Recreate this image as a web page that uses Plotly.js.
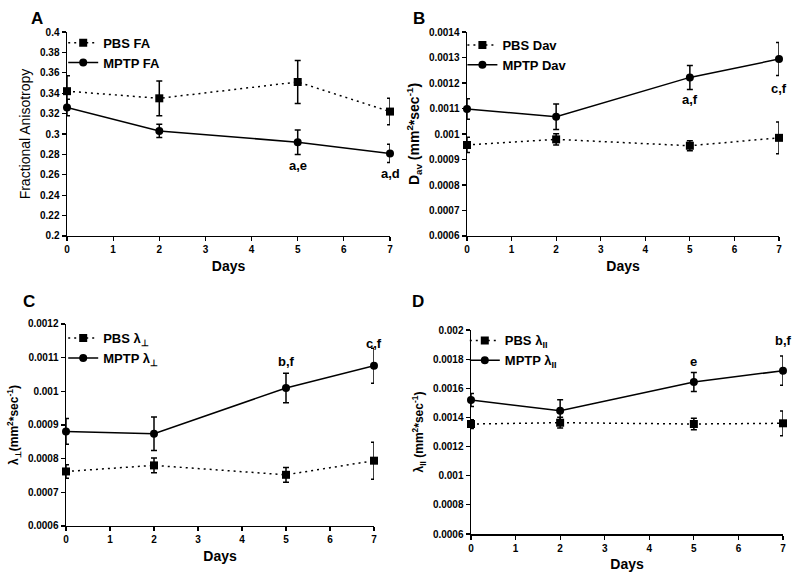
<!DOCTYPE html>
<html><head><meta charset="utf-8">
<script src="https://cdn.plot.ly/plotly-3.0.1.min.js"></script>
<style>body{margin:0;background:#fff}#c{width:800px;height:577px}</style>
</head><body><div id="c"></div>
<script>
const days = [0, 2, 5, 7];
// Panel A - Fractional Anisotropy
const pbsFA = [0.342, 0.335, 0.351, 0.322];
const pbsFAerr = [0.015, 0.017, 0.021, 0.013];
const mptpFA = [0.326, 0.303, 0.292, 0.281];
const mptpFAerr = [0.008, 0.0065, 0.012, 0.009];
// Panel B - Dav
const pbsDav = [0.000957, 0.000979, 0.000954, 0.000985];
const pbsDavErr = [0.00003, 0.000022, 0.00002, 0.000062];
const mptpDav = [0.001098, 0.001068, 0.001222, 0.001294];
const mptpDavErr = [0.00004, 0.00005, 0.000047, 0.000065];
// Panel C - lambda perpendicular
const pbsLp = [0.000762, 0.00078, 0.000752, 0.000794];
const pbsLpErr = [0.00002, 0.000022, 0.000022, 0.000055];
const mptpLp = [0.000881, 0.000874, 0.00101, 0.001076];
const mptpLpErr = [0.000038, 0.00005, 0.000044, 0.000052];
// Panel D - lambda parallel
const pbsLl = [0.001355, 0.001364, 0.001355, 0.00136];
const pbsLlErr = [0.00003, 0.000037, 0.00004, 0.000085];
const mptpLl = [0.00152, 0.001446, 0.001643, 0.001721];
const mptpLlErr = [0.000045, 0.000075, 0.000065, 0.0001];

const FONT = 'Liberation Sans, Arial, sans-serif';
function pbs(y, e, name, ax, leg) {
  return {x: days, y: y, name: name, xaxis: 'x' + ax, yaxis: 'y' + ax, legend: leg,
    mode: 'lines+markers', cliponaxis: false,
    line: {color: '#000', width: 1.5, dash: '2px,4px'},
    marker: {symbol: 'square', size: 8, color: '#000'},
    error_y: {type: 'data', array: e, visible: true, color: '#000', thickness: 1.5, width: 3}};
}
function mptp(y, e, name, ax, leg) {
  return {x: days, y: y, name: name, xaxis: 'x' + ax, yaxis: 'y' + ax, legend: leg,
    mode: 'lines+markers', cliponaxis: false,
    line: {color: '#000', width: 1.5},
    marker: {symbol: 'circle', size: 8, color: '#000'},
    error_y: {type: 'data', array: e, visible: true, color: '#000', thickness: 1.5, width: 3}};
}
const data = [
  pbs(pbsFA, pbsFAerr, 'PBS FA', '', 'legend'),
  mptp(mptpFA, mptpFAerr, 'MPTP FA', '', 'legend'),
  pbs(pbsDav, pbsDavErr, 'PBS Dav', '2', 'legend2'),
  mptp(mptpDav, mptpDavErr, 'MPTP Dav', '2', 'legend2'),
  pbs(pbsLp, pbsLpErr, 'PBS λ<sub>⊥</sub>', '3', 'legend3'),
  mptp(mptpLp, mptpLpErr, 'MPTP λ<sub>⊥</sub>', '3', 'legend3'),
  pbs(pbsLl, pbsLlErr, 'PBS λ<sub>II</sub>', '4', 'legend4'),
  mptp(mptpLl, mptpLlErr, 'MPTP λ<sub>II</sub>', '4', 'legend4')
];
data[0].xaxis = 'x'; data[0].yaxis = 'y'; data[1].xaxis = 'x'; data[1].yaxis = 'y';

function xax(dom, anchor) {
  return {domain: dom, anchor: anchor, range: [0, 7], tickvals: [0,1,2,3,4,5,6,7],
    showline: true, linecolor: '#000', linewidth: 1.5, ticks: 'outside', ticklen: 4, tickwidth: 1.2,
    tickcolor: '#000', showgrid: false, zeroline: false,
    tickfont: {family: FONT, size: 10, color: '#000', weight: 'bold'},
    title: {text: 'Days', font: {family: FONT, size: 14, color: '#000', weight: 'bold'}, standoff: 6}};
}
function yax(dom, anchor, range, dtick, title, tsize, bold) {
  return {domain: dom, anchor: anchor, range: range, dtick: dtick, tick0: range[0],
    showline: true, linecolor: '#000', linewidth: 1.5, ticks: 'outside', ticklen: 4, tickwidth: 1.2,
    tickcolor: '#000', showgrid: false, zeroline: false,
    tickfont: {family: FONT, size: 10, color: '#000', weight: 'bold'},
    title: {text: title, font: {family: FONT, size: tsize, color: '#000', weight: bold ? 'bold' : 'normal'}, standoff: 6}};
}
function leg(x, y) {
  return {x: x, y: y, xanchor: 'left', yanchor: 'top', bgcolor: 'rgba(0,0,0,0)',
    font: {family: FONT, size: 13, color: '#000', weight: 'bold'}, tracegroupgap: 0, itemwidth: 30};
}
function ann(x, y, t, ax) {
  return {x: x, y: y, xref: 'x' + ax, yref: 'y' + ax, text: t, showarrow: false,
    font: {family: FONT, size: 13, color: '#000', weight: 'bold'}};
}
function lbl(x, y, t) {
  return {x: x, y: y, xref: 'paper', yref: 'paper', text: t, showarrow: false, xanchor: 'left', yanchor: 'top',
    font: {family: FONT, size: 17, color: '#000', weight: 'bold'}};
}
const layout = {
  width: 800, height: 577, margin: {l: 0, r: 0, t: 0, b: 0},
  paper_bgcolor: '#fff', plot_bgcolor: '#fff', showlegend: true,
  xaxis: xax([0.08375, 0.4875], 'y'),
  yaxis: yax([0.591, 0.9445], 'x', [0.2, 0.4], 0.02, 'Fractional Anisotropy', 14, false),
  xaxis2: xax([0.58375, 0.97375], 'y2'),
  yaxis2: yax([0.591, 0.9445], 'x2', [0.0006, 0.0014], 0.0001, 'D<sub>av</sub> (mm<sup>2</sup>*sec<sup>-1</sup>)', 14, true),
  xaxis3: xax([0.0825, 0.4675], 'y3'),
  yaxis3: yax([0.0884, 0.4385], 'x3', [0.0006, 0.0012], 0.0001, 'λ<sub>⊥</sub>(mm<sup>2</sup>*sec<sup>-1</sup>)', 12, true),
  xaxis4: xax([0.58875, 0.97875], 'y4'),
  yaxis4: yax([0.0745, 0.428], 'x4', [0.0006, 0.002], 0.0002, 'λ<sub>II</sub> (mm<sup>2</sup>*sec<sup>-1</sup>)', 12, true),
  legend: leg(0.079, 0.952),
  legend2: leg(0.578, 0.948),
  legend3: leg(0.079, 0.44),
  legend4: leg(0.581, 0.436),
  annotations: [
    ann(5, 0.269, 'a,e', ''), ann(7, 0.261, 'a,d', ''),
    ann(5, 0.001134, 'a,f', '2'), ann(7, 0.00118, 'c,f', '2'),
    ann(5, 0.00109, 'b,f', '3'), ann(7, 0.001143, 'c,f', '3'),
    ann(5, 0.001783, 'e', '4'), ann(7, 0.001931, 'b,f', '4'),
    lbl(0.036, 0.988, 'A'), lbl(0.514, 0.988, 'B'), lbl(0.026, 0.497, 'C'), lbl(0.513, 0.497, 'D')
  ]
};
Plotly.newPlot('c', data, layout, {displayModeBar: false, staticPlot: true});
</script></body></html>
